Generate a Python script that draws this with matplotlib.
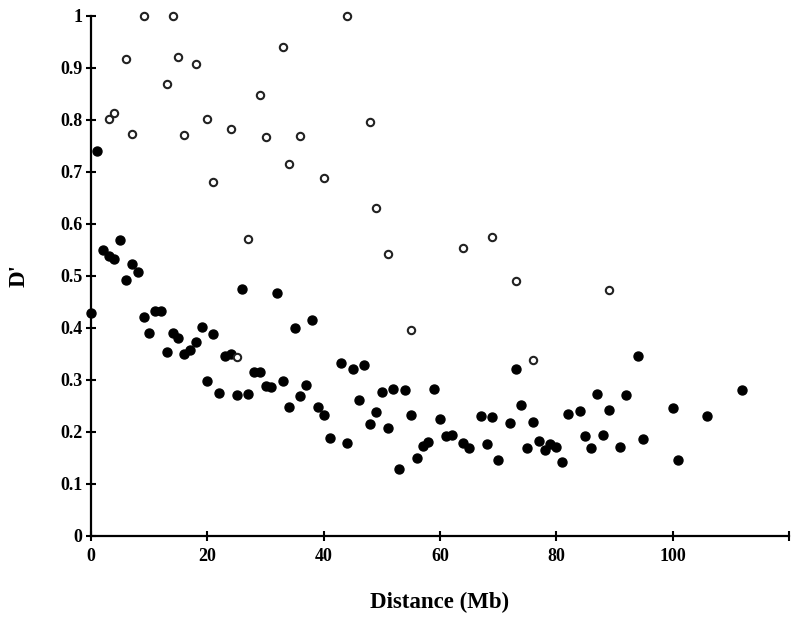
import matplotlib
matplotlib.use("Agg")
import matplotlib.pyplot as plt

# filled points (distance in Mb, D')
dist_filled = [0, 1, 2, 3, 4, 5, 6, 7, 8, 9, 10, 11, 12, 13, 14, 15, 16, 17, 18, 19,
               20, 21, 22, 23, 24, 25, 26, 27, 28, 29, 30, 31, 32, 33, 34, 35, 36, 37, 38, 39,
               40, 41, 43, 44, 45, 46, 47, 48, 49, 50, 51, 52, 53, 54, 55, 56, 57, 58, 59,
               60, 61, 62, 64, 65, 67, 68, 69, 70, 72, 73, 74, 75, 76, 77, 78, 79,
               80, 81, 82, 84, 85, 86, 87, 88, 89, 91, 92, 94, 95, 100, 101, 106, 112]
d_filled = [0.428, 0.740, 0.549, 0.537, 0.532, 0.569, 0.492, 0.522, 0.508, 0.420,
            0.390, 0.433, 0.433, 0.353, 0.390, 0.380, 0.350, 0.357, 0.372, 0.402,
            0.298, 0.388, 0.274, 0.345, 0.349, 0.270, 0.474, 0.272, 0.315, 0.315,
            0.288, 0.286, 0.467, 0.297, 0.247, 0.399, 0.268, 0.290, 0.415, 0.247,
            0.233, 0.188, 0.333, 0.179, 0.320, 0.261, 0.329, 0.215, 0.237, 0.276,
            0.208, 0.283, 0.129, 0.280, 0.232, 0.149, 0.172, 0.180, 0.283,
            0.224, 0.192, 0.194, 0.178, 0.168, 0.231, 0.176, 0.228, 0.145, 0.216, 0.320,
            0.251, 0.169, 0.218, 0.182, 0.165, 0.176,
            0.171, 0.142, 0.234, 0.240, 0.191, 0.169, 0.272, 0.193, 0.241, 0.170, 0.270,
            0.345, 0.186, 0.246, 0.146, 0.230, 0.281]

# open points
dist_open = [3, 4, 6, 7, 9, 13, 14, 15, 16, 18, 20, 21, 24, 25, 27, 29, 30, 33, 34, 36,
             40, 44, 48, 49, 51, 55, 64, 69, 73, 76, 89]
d_open = [0.802, 0.812, 0.916, 0.773, 1.0, 0.868, 1.0, 0.920, 0.771, 0.906,
          0.801, 0.680, 0.782, 0.344, 0.570, 0.848, 0.767, 0.940, 0.714, 0.769,
          0.687, 1.0, 0.795, 0.630, 0.542, 0.396, 0.553, 0.574, 0.490, 0.337, 0.473]

plt.rcParams['font.family'] = ['Liberation Serif', 'DejaVu Serif']
plt.rcParams['font.weight'] = 'bold'

fig = plt.figure(figsize=(8, 6.23), dpi=100)
ax = fig.add_axes([0.114, 0.140, 0.872, 0.835])

ax.scatter(dist_filled, d_filled, s=42, color='black', zorder=3, clip_on=False)
ax.scatter(dist_open, d_open, s=28, facecolor='white', edgecolor='#222222',
           linewidths=1.5, zorder=4, clip_on=False)

ax.set_xlim(0, 120)
ax.set_ylim(0, 1)
ax.set_xticks([0, 20, 40, 60, 80, 100, 120])
ax.set_xticklabels(['0', '20', '40', '60', '80', '100', ''])
ax.set_yticks([i / 10 for i in range(11)])
ax.set_yticklabels(['0', '0.1', '0.2', '0.3', '0.4', '0.5', '0.6', '0.7', '0.8', '0.9', '1'])

for side in ['top', 'right']:
    ax.spines[side].set_visible(False)
for side in ['left', 'bottom']:
    ax.spines[side].set_linewidth(1.6)

ax.tick_params(direction='inout', length=7, width=1.5, labelsize=13, pad=3)
ax.tick_params(axis='x', pad=5)

ax.set_xlabel('Distance (Mb)', fontsize=16.5, fontweight='bold', labelpad=20)
ax.set_ylabel("D'", fontsize=16.5, fontweight='bold', labelpad=22)

fig.savefig('out.png', dpi=100)
